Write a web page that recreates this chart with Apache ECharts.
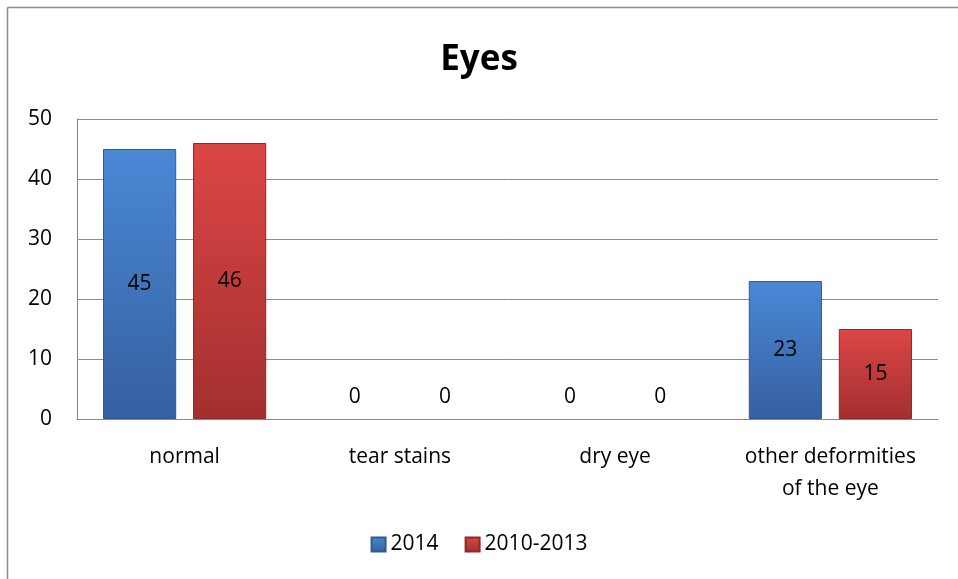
<!DOCTYPE html>
<html>
<head>
<meta charset="utf-8">
<script src="https://cdn.jsdelivr.net/npm/echarts@6/dist/echarts.min.js"></script>
<style>
html,body{margin:0;padding:0;background:#fff;}
#c{width:958px;height:579px;}
</style>
</head>
<body>
<div id="c"></div>
<script>
var categories = ['normal', 'tear stains', 'dry eye', 'other deformities\nof the eye'];
var seriesNames = ['2014', '2010-2013'];
var values2014 = [45, 0, 0, 23];
var values2010 = [46, 0, 0, 15];
var yTicks = [0, 10, 20, 30, 40, 50];

var FONT = 'Open Sans';
var FS = 21;

function grad(top, bottom) {
  return new echarts.graphic.LinearGradient(0, 0, 0, 1, [
    {offset: 0, color: top}, {offset: 1, color: bottom}
  ]);
}
function items(vals) {
  return vals.map(function (v) {
    if (v === 0) {
      return {value: v, itemStyle: {borderWidth: 0, color: 'rgba(0,0,0,0)'}, label: {position: 'top', distance: 11}};
    }
    return v;
  });
}

var chart = echarts.init(document.getElementById('c'));
chart.setOption({
  backgroundColor: '#fff',
  animation: false,
  title: {
    text: 'Eyes', left: 'center', top: 38,
    textStyle: {fontFamily: FONT, fontSize: 35, fontWeight: 'bold', color: '#000'}
  },
  legend: {
    bottom: 19, left: 'center', icon: 'rect', itemWidth: 14, itemHeight: 14, itemGap: 26,
    textStyle: {fontFamily: FONT, fontSize: FS, color: '#000'},
    data: seriesNames
  },
  graphic: [
    {type: 'line', shape: {x1: 7.5, y1: 7.5, x2: 958, y2: 7.5}, style: {stroke: '#8c8c8c', lineWidth: 1.5}},
    {type: 'line', shape: {x1: 7.5, y1: 7.5, x2: 7.5, y2: 579}, style: {stroke: '#8c8c8c', lineWidth: 1.5}}
  ],
  grid: {left: 77, right: 20, top: 119, bottom: 160, containLabel: false},
  xAxis: {
    type: 'category', data: categories,
    axisLine: {show: true, lineStyle: {color: '#888', width: 1}},
    axisTick: {show: false},
    axisLabel: {interval: 0, hideOverlap: false, fontFamily: FONT, fontSize: FS, color: '#000', margin: 22, lineHeight: 32}
  },
  yAxis: {
    type: 'value', min: yTicks[0], max: yTicks[yTicks.length - 1], interval: 10,
    axisLine: {show: true, lineStyle: {color: '#888', width: 1}},
    axisTick: {show: false},
    axisLabel: {fontFamily: FONT, fontSize: FS, color: '#000', margin: 25},
    splitLine: {lineStyle: {color: '#8c8c8c', width: 1}}
  },
  series: [
    {
      name: seriesNames[0], type: 'bar', data: items(values2014),
      barWidth: '34%', barGap: '23%',
      itemStyle: {color: grad('#4a88d6', '#3560a0'), borderColor: '#2f5a94', borderWidth: 1},
      label: {show: true, position: 'inside', fontFamily: FONT, fontSize: FS, color: '#000'}
    },
    {
      name: seriesNames[1], type: 'bar', data: items(values2010),
      barWidth: '34%', barGap: '23%',
      itemStyle: {color: grad('#dc4646', '#a32f2f'), borderColor: '#8f2828', borderWidth: 1},
      label: {show: true, position: 'inside', fontFamily: FONT, fontSize: FS, color: '#000'}
    }
  ]
});
</script>
</body>
</html>
